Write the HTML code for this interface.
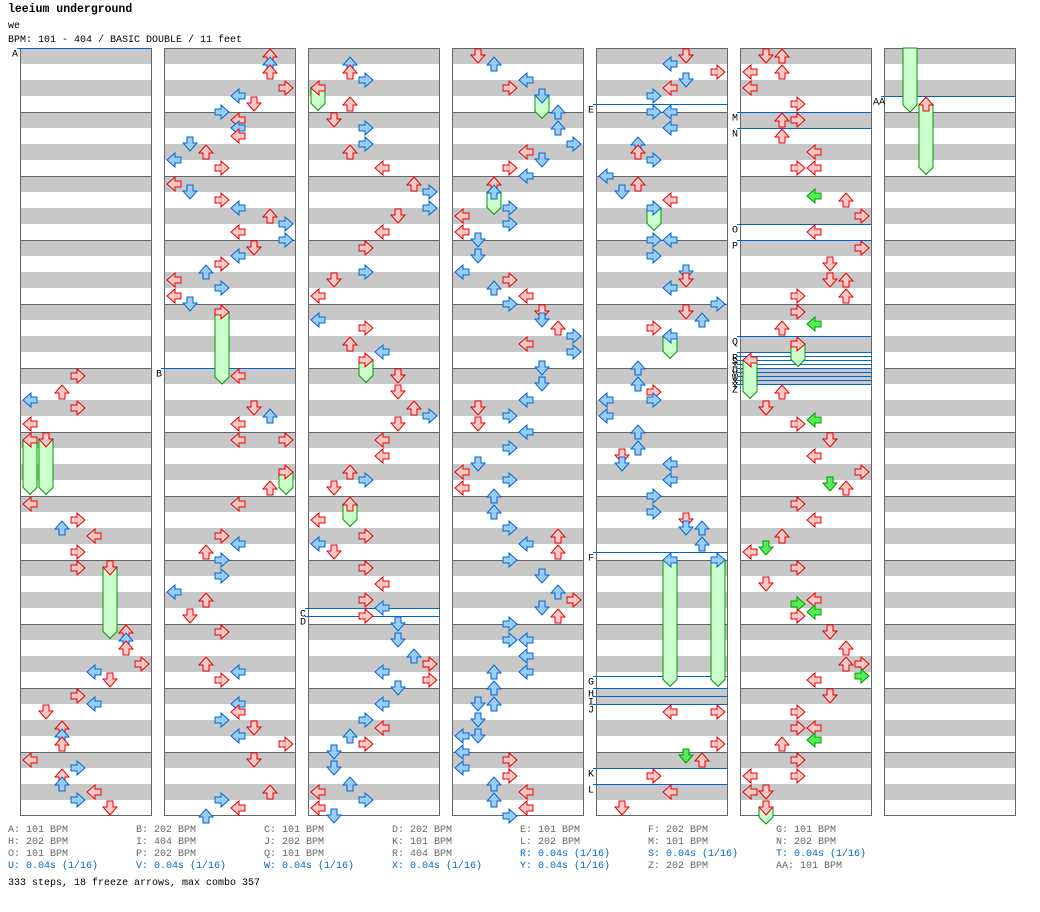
<!DOCTYPE html>
<html><head><meta charset="utf-8">
<style>
body{margin:0;background:#fff;width:1040px;height:912px;overflow:hidden;position:relative;font-family:"Liberation Mono",monospace;}
.t{position:absolute;white-space:pre;font-size:10px;line-height:12px;}
.g{color:#666}.b{color:#0066cc}
</style></head><body>
<div class="t" style="left:8px;top:4px;font-size:11.5px;font-weight:bold;color:#000">leeium underground</div>
<div class="t" style="left:8px;top:21px;color:#000">we</div>
<div class="t" style="left:8px;top:35px;color:#000">BPM: 101 - 404 / BASIC DOUBLE / 11 feet</div>
<svg id="chart" width="1040" height="912" style="position:absolute;left:0;top:0" xmlns="http://www.w3.org/2000/svg"></svg>
<div id="foot"></div>
<div class="t" style="left:8px;top:878px;color:#000">333 steps, 18 freeze arrows, max combo 357</div>
<script>
const colX=[20,164,308,452,596,740,884];
const col0=[[20,3],[21,2],[21.5,0],[22,3],[23,0],[28,0],[29,3],[29.5,2],[30,4],[31,3],[32,3],[36,6],[36.5,6],[37,6],[38,7],[38.5,4],[39,5],[40,3],[40.5,4],[41,1],[42,2],[42.5,2],[43,2],[44,0],[44.5,3],[45,2],[45.5,2],[46,4],[46.5,3],[47,5]];
const col1=[[0,6],[0.5,6],[1,6],[2,7],[2.5,4],[3,5],[3.5,3],[4,4],[4.5,4],[5,4],[5.5,1],[6,2],[6.5,0],[7,3],[8,0],[8.5,1],[9,3],[9.5,4],[10,6],[10.5,7],[11,4],[11.5,7],[12,5],[12.5,4],[13,3],[13.5,2],[14,0],[14.5,3],[15,0],[15.5,1],[20,4],[22,5],[22.5,6],[23,4],[24,4],[24,7],[27,6],[28,4],[30,3],[30.5,4],[31,2],[31.5,3],[32.5,3],[33.5,0],[34,2],[35,1],[36,3],[38,2],[38.5,4],[39,3],[40.5,4],[41,4],[41.5,3],[42,5],[42.5,4],[43,7],[44,5],[46,6],[46.5,3],[47,4],[47.5,2]];
const col2=[[0.5,2],[1,2],[1.5,3],[3,2],[4,1],[4.5,3],[5.5,3],[6,2],[7,4],[8,6],[8.5,7],[9.5,7],[10,5],[11,4],[12,3],[13.5,3],[14,1],[15,0],[16.5,0],[17,3],[18,2],[18.5,4],[20,5],[21,5],[22,6],[22.5,7],[23,5],[24,4],[25,4],[26,2],[26.5,3],[27,1],[29,0],[30,3],[30.5,0],[31,1],[32,3],[33,4],[34,3],[34.5,4],[35,3],[35.5,5],[36.5,5],[37.5,6],[38,7],[38.5,4],[39,7],[39.5,5],[40.5,4],[41.5,3],[42,4],[42.5,2],[43,3],[43.5,1],[44.5,1],[45.5,2],[46,0],[46.5,3],[47,0],[47.5,1]];
const col3=[[0,1],[0.5,2],[1.5,4],[2,3],[3.5,6],[4.5,6],[5.5,7],[6,4],[6.5,5],[7,3],[7.5,4],[8,2],[9.5,3],[10,0],[10.5,3],[11,0],[11.5,1],[12.5,1],[13.5,0],[14,3],[14.5,2],[15,4],[15.5,3],[16,5],[16.5,5],[17,6],[17.5,7],[18,4],[18.5,7],[19.5,5],[20.5,5],[21.5,4],[22,1],[22.5,3],[23,1],[23.5,4],[24.5,3],[25.5,1],[26,0],[26.5,3],[27,0],[27.5,2],[28.5,2],[29.5,3],[30,6],[30.5,4],[31,6],[31.5,3],[32.5,5],[33.5,6],[34,7],[34.5,5],[35,6],[35.5,3],[36.5,3],[36.5,4],[37.5,4],[38.5,4],[38.5,2],[39.5,2],[40.5,2],[40.5,1],[41.5,1],[42.5,1],[42.5,0],[43.5,0],[44,3],[44.5,0],[45,3],[45.5,2],[46,4],[46.5,2],[47,4],[47.5,3]];
const col4=[[0,5],[0.5,4],[1,7],[1.5,5],[2,4],[2.5,3],[3.5,3],[3.5,4],[4.5,4],[5.5,2],[6,2],[6.5,3],[7.5,0],[8,2],[8.5,1],[9,4],[11.5,3],[11.5,4],[12.5,3],[13.5,5],[14,5],[14.5,4],[15.5,7],[16,5],[16.5,6],[17,3],[19.5,2],[20.5,2],[21,3],[21.5,3],[21.5,0],[22.5,0],[23.5,2],[24.5,2],[25,1],[25.5,1],[25.5,4],[26.5,4],[27.5,3],[28.5,3],[29,5],[29.5,5],[29.5,6],[30.5,6],[41,4],[41,7],[43,7],[43.75,5],[44,6],[45,3],[46,4],[47,1]];
const col5=[[0,1],[0,2],[1,0],[1,2],[2,0],[3,3],[4,2],[4,3],[5,2],[6,4],[7,3],[7,4],[8.75,4],[9,6],[10,7],[11,4],[12,7],[13,5],[14,5],[14,6],[15,3],[15,6],[16,3],[16.75,4],[17,2],[21,2],[22,1],[22.75,4],[23,3],[24,5],[25,4],[26,7],[26.75,5],[27,6],[28,3],[29,4],[30,2],[30.75,1],[31,0],[32,3],[33,1],[34,4],[34.25,3],[34.75,4],[35,3],[36,5],[37,6],[38,6],[38,7],[38.75,7],[39,4],[40,5],[41,3],[42,3],[42,4],[42.75,4],[43,2],[44,3],[45,0],[45,3],[46,0],[46,1]];
const col6=[];
const notesByCol=[col0,col1,col2,col3,col4,col5,col6];
// [column, lane, startBeat, endBeat]
const freezes=[[0,0,24,27.9],[0,1,24,27.9],[0,5,32,36.9],[1,3,16,21],[1,7,26,27.9],[2,0,2,3.9],[2,3,19,20.9],[2,2,28,29.9],[3,5,2.5,4.4],[3,2,8.5,10.4],[4,3,9.5,11.4],[4,4,17.5,19.4],[4,4,31.5,39.9],[4,7,31.5,39.9],[5,3,18,19.9],[5,0,19,21.9],[5,1,47,48.5],[6,1,-1,4],[6,2,3,7.9]];
const bpmLabels=["A","B","C","D","E","F","G","H","I","J","K","L","M","N","O","P","Q","R","S","T","U","V","W","X","Y","Z","AA"];
const bpmCols=[0,1,2,2,4,4,4,4,4,4,4,4,5,5,5,5,5,5,5,5,5,5,5,5,5,5,6];
const bpmBeats=[0,20,35,35.5,3.5,31.5,39.25,40,40.5,41,45,46,4,5,11,12,18,19,19.25,19.5,19.75,20,20.25,20.5,20.75,21,3];
const legendRows=[
 [["A: 101 BPM","g"],["B: 202 BPM","g"],["C: 101 BPM","g"],["D: 202 BPM","g"],["E: 101 BPM","g"],["F: 202 BPM","g"],["G: 101 BPM","g"]],
 [["H: 202 BPM","g"],["I: 404 BPM","g"],["J: 202 BPM","g"],["K: 101 BPM","g"],["L: 202 BPM","g"],["M: 101 BPM","g"],["N: 202 BPM","g"]],
 [["O: 101 BPM","g"],["P: 202 BPM","g"],["Q: 101 BPM","g"],["R: 404 BPM","g"],["R: 0.04s (1/16)","b"],["S: 0.04s (1/16)","b"],["T: 0.04s (1/16)","b"]],
 [["U: 0.04s (1/16)","b"],["V: 0.04s (1/16)","b"],["W: 0.04s (1/16)","b"],["X: 0.04s (1/16)","b"],["Y: 0.04s (1/16)","b"],["Z: 202 BPM","g"],["AA: 101 BPM","g"]]
];

const TOP=48,BEAT=16,BEATS=48,W=132;
const yOf=b=>TOP+b*BEAT;
const xOf=(c,l)=>colX[c]+10+16*l;
const NS="http://www.w3.org/2000/svg";
const svg=document.getElementById('chart');
function mk(tag,attrs,parent){const e=document.createElementNS(NS,tag);for(const k in attrs)e.setAttribute(k,attrs[k]);(parent||svg).appendChild(e);return e;}

// columns
colX.forEach((x,c)=>{
  const g=mk('g',{});
  
  
  mk('rect',{x:x,y:TOP,width:W,height:BEATS*BEAT,fill:'#fff'},g);
  for(let b=0;b<BEATS;b+=2){const r=mk('rect',{x:x,y:yOf(b),width:W,height:BEAT,fill:'#c8c8c8'},g);}
  for(let m=1;m<BEATS/4;m++){mk('line',{x1:x,x2:x+W,y1:yOf(m*4)+0.5,y2:yOf(m*4)+0.5,stroke:'#666','stroke-width':1},g);}
  mk('rect',{x:x+0.5,y:TOP+0.5,width:W-1,height:BEATS*BEAT-1,fill:'none',stroke:'#666','stroke-width':1},g);
});

// bpm lines
bpmLabels.forEach((lab,i)=>{
  const x=colX[bpmCols[i]],y=yOf(bpmBeats[i])+0.5;
  const l=mk('line',{x1:x-3,x2:x+W,y1:y,y2:y,stroke:'#0066cc','stroke-width':1});
  
  
  const t=mk('text',{x:x-(lab.length>1?11:8),y:y+8,'font-size':10,'font-family':'Liberation Mono, monospace',fill:'#000'});
  t.textContent=lab;
  
  
});

function colorFor(b){const f=b-Math.floor(b);if(f===0)return['#ffc8c8','#e00000'];if(Math.abs(f-0.5)<1e-6)return['#99ccff','#0066cc'];return['#55ee55','#009900'];}
const ROT=[90,0,180,270];
function arrow(c,l,b){
  const [fill,stroke]=colorFor(b);
  const cx=xOf(c,l),cy=yOf(b)+8;
  const p=mk('polygon',{points:'5,1 11,1 11,7 15,7 8,15 1,7 5,7',fill:fill,stroke:stroke,'stroke-width':1,'stroke-linejoin':'miter',transform:`translate(${cx},${cy}) rotate(${ROT[l%4]}) translate(-8,-8)`});
  
  
}
// freeze bodies
freezes.forEach(f=>{
  const [c,l,s,e]=f;const cx=xOf(c,l);const y0=Math.max(yOf(s)+8,TOP);const tip=yOf(e);
  const p=mk('polygon',{points:`${cx-7},${y0} ${cx+7},${y0} ${cx+7},${tip-7} ${cx},${tip} ${cx-7},${tip-7}`,fill:'#ccffcc',stroke:'#009900','stroke-width':1});
  
  
});
// arrows sorted by beat
const all=[];
notesByCol.forEach((arr,c)=>arr.forEach(n=>all.push([c,n[1],n[0]])));
freezes.forEach(f=>{if(f[2]>=0)all.push([f[0],f[1],f[2]]);});
all.sort((a,b)=>a[2]-b[2]);
all.forEach(n=>arrow(n[0],n[1],n[2]));

// legend
const foot=document.getElementById('foot');
legendRows.forEach((row,r)=>row.forEach((cell,i)=>{
  const d=document.createElement('div');
  d.className='t '+cell[1];
  d.style.left=(8+128*i)+'px';d.style.top=(825+12*r)+'px';
  d.textContent=cell[0];
  
  
  foot.appendChild(d);
}));
</script>
</body></html>
